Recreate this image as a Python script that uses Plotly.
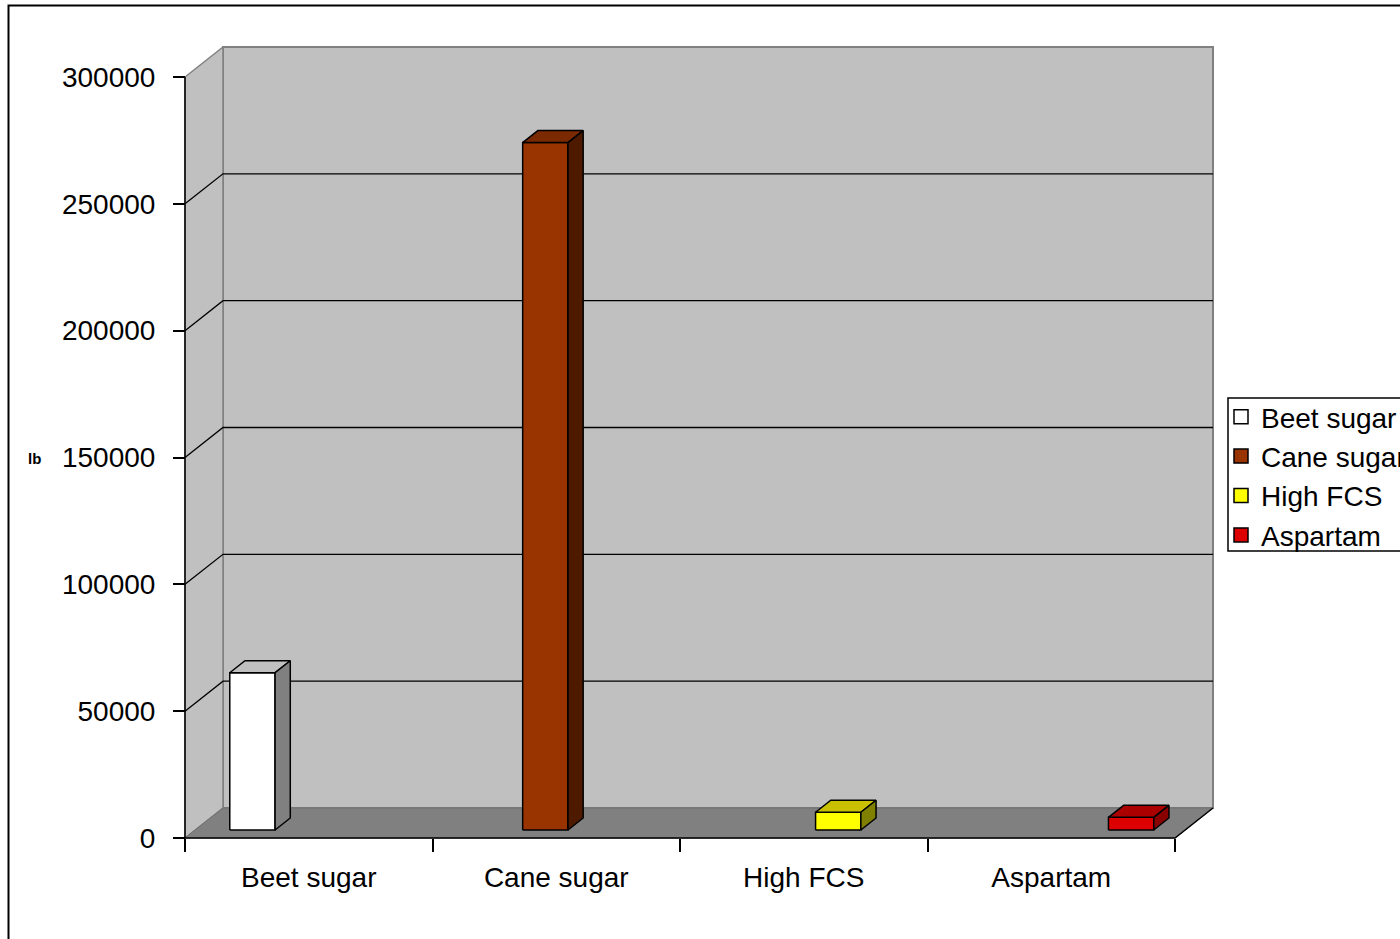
import plotly.graph_objects as go

# Sweetener usage (lb)
categories = ["Beet sugar", "Cane sugar", "High FCS", "Aspartam"]
values = [62000, 271000, 7000, 5000]
front_colors = ["#FFFFFF", "#993300", "#FFFF00", "#DD0000"]
top_colors = ["#C0C0C0", "#7A2900", "#C8C000", "#AA0000"]
side_colors = ["#808080", "#4D1A00", "#808000", "#880000"]
y_ticks = [0, 50000, 100000, 150000, 200000, 250000, 300000]

# Canvas and pseudo-3D geometry
W, H = 1400, 939
AX_X0 = 185            # pixel where the front value axis sits
AX_Y0 = 838            # pixel of the front zero line
PX_PER_CAT = 247.5     # pixels per category unit
PX_PER_VAL = 761 / 300000
DEPTH_PX_X, DEPTH_PX_Y = 38, 30
DX = DEPTH_PX_X / PX_PER_CAT
DY = DEPTH_PX_Y / PX_PER_VAL
N = len(categories)
VMAX = y_ticks[-1]

BAR_START, BAR_STEP, BAR_W = 0.14, 1.1834, 0.183
F0, F1 = 8 / 30, 20 / 30

FONT = "Liberation Sans, Arial, sans-serif"
FS = 28


def proj(u, v, f):
    return u + f * DX, v + f * DY


def poly(points, fill, line_color, lw=1.0, closed=True):
    pts = [proj(*p) for p in points]
    if closed:
        pts.append(pts[0])
    xs = [p[0] for p in pts]
    ys = [p[1] for p in pts]
    kw = dict(x=xs, y=ys, mode="lines", hoverinfo="skip", showlegend=False,
              line=dict(color=line_color, width=lw))
    if fill is not None:
        kw.update(fill="toself", fillcolor=fill)
    return go.Scatter(**kw)


fig = go.Figure()

# Back wall, side wall and floor
fig.add_trace(poly([(0, 0, 1), (N, 0, 1), (N, VMAX, 1), (0, VMAX, 1)], "#C0C0C0", "#808080", 2))
fig.add_trace(poly([(0, 0, 0), (0, 0, 1), (0, VMAX, 1), (0, VMAX, 0)], "#C0C0C0", "#808080", 1.5))
fig.add_trace(poly([(0, 0, 0), (N, 0, 0), (N, 0, 1), (0, 0, 1)], "#808080", "#707070", 1))

# Gridlines across side wall and back wall
for v in y_ticks[1:-1]:
    fig.add_trace(poly([(0, v, 0), (0, v, 1), (N, v, 1)], None, "black", 1.3, closed=False))

# Floor front and right edges, value axis line
fig.add_trace(poly([(0, 0, 0), (N, 0, 0), (N, 0, 1)], None, "black", 1.5, closed=False))
fig.add_trace(poly([(0, 0, 0), (0, VMAX, 0)], None, "black", 1.5, closed=False))

# Bars: front, top and side faces
for i, v in enumerate(values):
    u0 = BAR_START + i * BAR_STEP
    u1 = u0 + BAR_W
    fig.add_trace(poly([(u0, 0, F0), (u1, 0, F0), (u1, v, F0), (u0, v, F0)],
                       front_colors[i], "black", 1.5))
    fig.add_trace(poly([(u0, v, F0), (u1, v, F0), (u1, v, F1), (u0, v, F1)],
                       top_colors[i], "black", 1.5))
    fig.add_trace(poly([(u1, 0, F0), (u1, 0, F1), (u1, v, F1), (u1, v, F0)],
                       side_colors[i], "black", 1.5))

# Legend entries
for name, c in zip(categories, front_colors):
    fig.add_trace(go.Scatter(x=[None], y=[None], mode="markers", name=name,
                             marker=dict(symbol="square", size=14, color=c,
                                         line=dict(color="black", width=1.5))))

x_range = [-AX_X0 / PX_PER_CAT, (W - AX_X0) / PX_PER_CAT]
y_range = [-(H - AX_Y0) / PX_PER_VAL, AX_Y0 / PX_PER_VAL]

fig.update_layout(
    width=W, height=H,
    margin=dict(l=0, r=0, t=0, b=0, autoexpand=False),
    paper_bgcolor="white", plot_bgcolor="white",
    font=dict(family=FONT, size=FS, color="black"),
    xaxis=dict(range=x_range, anchor="free", position=(H - AX_Y0) / H,
               tickmode="array", tickvals=[i + 0.5 for i in range(N)], ticktext=categories,
               ticks="", showgrid=False, zeroline=False, showline=False,
               ticklabelstandoff=20,
               minor=dict(tickmode="array", tickvals=list(range(N + 1)), ticks="outside",
                          ticklen=13, tickcolor="black", tickwidth=1.5, showgrid=False),
               tickfont=dict(size=FS)),
    yaxis=dict(range=y_range, anchor="free", position=AX_X0 / W,
               tickmode="array", tickvals=y_ticks, ticktext=[str(t) for t in y_ticks],
               ticks="outside", ticklen=12, tickcolor="black", tickwidth=1.5,
               ticklabelstandoff=12,
               showgrid=False, zeroline=False, showline=False, tickfont=dict(size=FS)),
    legend=dict(x=1221 / W, y=1 - 392 / H, xanchor="left", yanchor="top",
                bgcolor="rgba(0,0,0,0)", borderwidth=0, font=dict(size=FS),
                tracegroupgap=0),
    annotations=[dict(text="<b>lb</b>", x=34 / W, y=1 - 458 / H, xref="paper", yref="paper",
                      showarrow=False, font=dict(size=15), xanchor="center", yanchor="middle")],
    shapes=[
        dict(type="rect", xref="paper", yref="paper", x0=1228 / W, x1=1.02,
             y0=1 - 551 / H, y1=1 - 398 / H, line=dict(color="black", width=1.5)),
        dict(type="rect", xref="paper", yref="paper", x0=8.5 / W, x1=1.02,
             y0=-0.02, y1=1 - 5.5 / H, line=dict(color="black", width=2)),
    ],
)

fig.write_html("out.html")
